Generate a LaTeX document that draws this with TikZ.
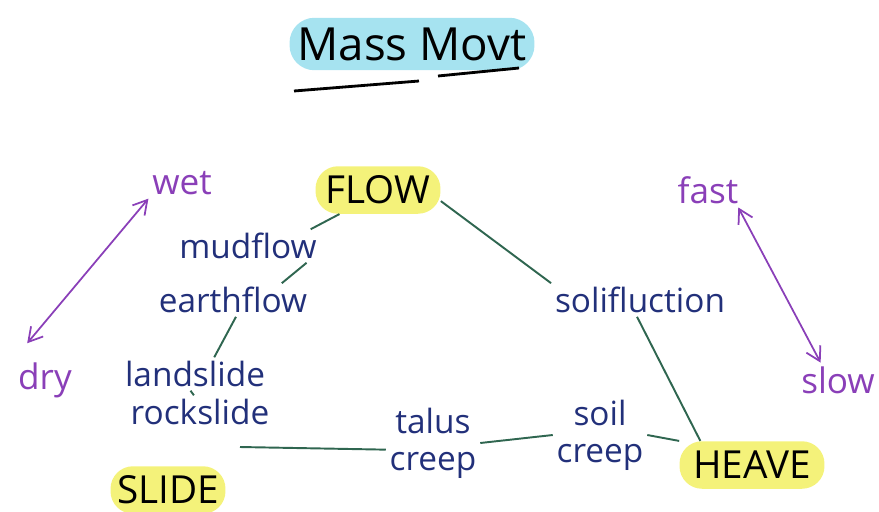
\documentclass[tikz,border=0pt]{standalone}
\usepackage{fontspec}
\setmainfont{Open Sans}
\usepackage{tikz}
\usetikzlibrary{arrows.meta,positioning}

\definecolor{hlyellow}{HTML}{F4F27A}
\definecolor{hlcyan}{HTML}{A6E3F0}
\definecolor{inkgreen}{HTML}{2F6650}
\definecolor{inkblue}{HTML}{22307A}
\definecolor{inkpurple}{HTML}{8A3FB8}

\begin{document}
\begin{tikzpicture}[
    x=0.02cm, y=-0.02cm,
    heading/.style={fill=hlcyan, rounded corners=0.5cm, minimum width=4.9cm, minimum height=1.05cm, text=black, font=\fontsize{26}{28}\selectfont},
    term/.style={fill=hlyellow, rounded corners=0.45cm, minimum height=0.95cm, text=black, font=\fontsize{22}{24}\selectfont},
    kind/.style={text=inkblue, font=\fontsize{19}{21}\selectfont, inner sep=2pt, align=center},
    pole/.style={text=inkpurple, font=\fontsize{20}{22}\selectfont, inner sep=2pt},
    link/.style={inkgreen, line width=1.1pt},
    scalearrow/.style={<->, >={Straight Barb[angle=60:9pt]}, inkpurple, line width=1pt}
]
\useasboundingbox (0,0) rectangle (879,511);

% Title
\node[heading] (title) at (412,44) {Mass Movt};
\draw[line width=1.6pt] (294,91) -- (419,81);
\draw[line width=1.6pt] (438,76) -- (519,68);

% Main types
\node[term, minimum width=2.5cm] (flow) at (378,190) {FLOW};
\node[term, minimum width=2.3cm] (slide) at (168,490) {SLIDE};
\node[term, minimum width=2.9cm] (heave) at (752,465) {HEAVE};

% Kinds of movement
\node[kind] (mudflow) at (248,246) {mudflow};
\node[kind] (earthflow) at (233,300) {earthflow};
\node[kind] (landslide) at (195,374) {landslide};
\node[kind] (rockslide) at (200,412) {rockslide};
\node[kind] (solif) at (640,300) {solifluction};
\node[kind] (talus) at (433,443) {talus\\creep};
\node[kind] (soil) at (600,435) {soil\\creep};
\coordinate (slideend) at (240,447);

% Scales
\node[pole] (wet) at (182,183) {wet};
\node[pole] (dry) at (45,380) {dry};
\node[pole] (fast) at (708,190) {fast};
\node[pole] (slow) at (838,380) {slow};

% Connections
\draw[link] (flow.212) -- (mudflow.15);
\draw[link] (mudflow.-16) -- (earthflow.19);
\draw[link] (earthflow.-80) -- (landslide.41);
\draw[link] (landslide.-105) -- (rockslide.110);
\draw[link] (slideend) -- (talus.188);
\draw[link] (talus.east) -- (soil.west);
\draw[link] (soil.east) -- (heave.north west);
\draw[link] (flow.-10) -- (solif.north west);
\draw[link] (solif.-100) -- (heave.155);

\draw[scalearrow, shorten >=0.4cm] (wet.south west) -- (dry.north west);
\draw[scalearrow] (fast.-30) -- (slow.135);

\end{tikzpicture}
\end{document}
